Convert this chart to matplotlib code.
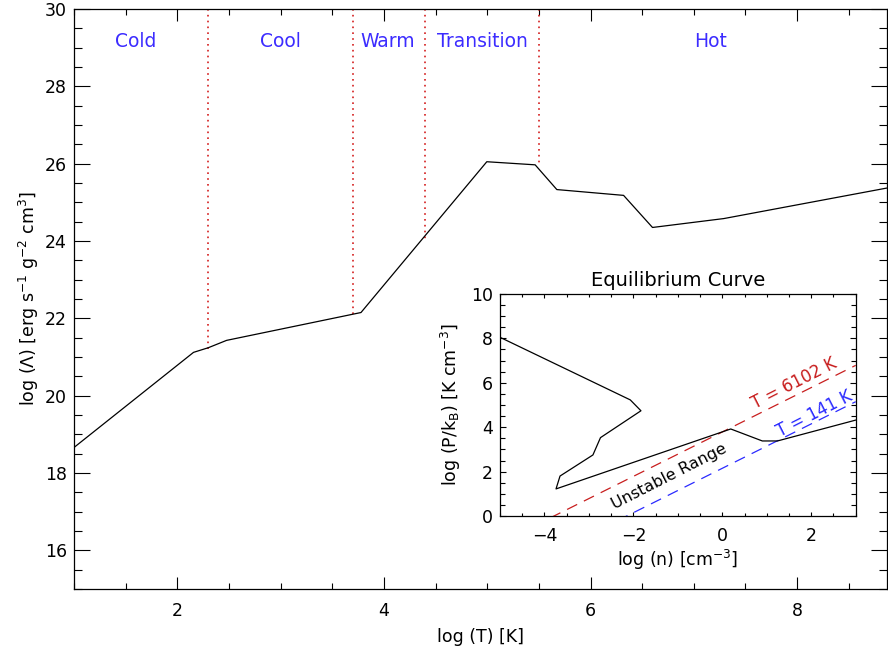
import matplotlib
matplotlib.use("Agg")
import matplotlib.pyplot as plt
from matplotlib.ticker import MultipleLocator
import numpy as np

plt.rcParams['font.family'] = ['DejaVu Sans']
plt.rcParams['mathtext.default'] = 'regular'

# Cooling function log(Lambda) versus log(T)
log_T = [1.0, 2.157, 2.30, 2.477, 3.778, 4.996, 5.464, 5.674, 6.32, 6.60, 7.29, 8.87]
log_lambda = [18.66, 21.12, 21.24, 21.43, 22.15, 26.05, 25.97, 25.33, 25.18, 24.35, 24.58, 25.37]

# Phase boundaries (dotted) and where each one meets the curve
phase_bounds = [2.3, 3.7, 4.4, 5.5]
phase_bound_bottoms = [21.2, 22.0, 24.0, 26.0]
phase_names = ["Cold", "Cool", "Warm", "Transition", "Hot"]
phase_label_x = [1.6, 3.0, 4.04, 4.95, 7.16]
phase_label_y = 29.15

# Equilibrium curve log(P/k_B) versus log(n)
eq_log_n = [-5.0, -2.07, -1.83, -2.74, -2.91, -3.65, -3.74, 0.19, 0.90, 1.24, 3.0]
eq_log_p = [8.05, 5.23, 4.74, 3.53, 2.75, 1.80, 1.22, 3.92, 3.38, 3.38, 4.32]

# Isotherms
iso_temps = [6102, 141]
iso_colors = ["#c81e1e", "#2a2aff"]
iso_label_pos = [(1.62, 5.95), (2.07, 4.62)]

fig = plt.figure(figsize=(8.88, 6.46), dpi=100)
ax = fig.add_axes([74 / 888, 1 - 589 / 646, 813 / 888, 580 / 646])

ax.plot(log_T, log_lambda, color="black", lw=0.9, zorder=3)
for xb, yb in zip(phase_bounds, phase_bound_bottoms):
    ax.plot([xb, xb], [30, yb], color="#d41e1e", lw=1.2, ls=(0, (1, 2.5)), zorder=2)
for name, xl in zip(phase_names, phase_label_x):
    ax.text(xl, phase_label_y, name, color="#3c2cff", fontsize=13.5,
            ha="center", va="center")

ax.set_xlim(1, 8.87)
ax.set_ylim(15, 30)
ax.xaxis.set_major_locator(MultipleLocator(2))
ax.xaxis.set_minor_locator(MultipleLocator(0.5))
ax.yaxis.set_major_locator(MultipleLocator(2))
ax.yaxis.set_minor_locator(MultipleLocator(0.5))
ax.tick_params(which="both", direction="in", top=True, right=True,
               labelsize=12.5, width=0.8, color="black")
ax.tick_params(axis="x", which="major", length=8.3, pad=9)
ax.tick_params(axis="x", which="minor", length=4.2)
ax.tick_params(axis="y", which="major", length=11.7, pad=5)
ax.tick_params(axis="y", which="minor", length=5.9)
ax.set_yticks([16, 18, 20, 22, 24, 26, 28, 30])
for s in ax.spines.values():
    s.set_linewidth(0.9)
ax.set_xlabel("log (T) [K]", fontsize=12.5, labelpad=6)
ax.set_ylabel(r"log ($\Lambda$) [erg s$^{-1}$ g$^{-2}$ cm$^{3}$]", fontsize=12.5,
              labelpad=3)

# Inset: equilibrium curve
ins = fig.add_axes([500 / 888, 1 - 516 / 646, 355.7 / 888, 222 / 646])
ins.set_facecolor("white")
ins.plot(eq_log_n, eq_log_p, color="black", lw=0.9, zorder=3)
n_line = np.array([-5.0, 3.0])
for T, c in zip(iso_temps, iso_colors):
    ins.plot(n_line, n_line + np.log10(T), color=c, lw=0.9,
             ls=(0, (9, 6)), zorder=2)
for (lx, ly), T, c in zip(iso_label_pos, iso_temps, iso_colors):
    ins.text(lx, ly, f"T = {T} K", color=c, fontsize=12, rotation=27,
             ha="center", va="center", rotation_mode="anchor")
ins.text(-1.2, 1.77, "Unstable Range", color="black", fontsize=11.5,
         rotation=27, ha="center", va="center", rotation_mode="anchor")

ins.set_xlim(-5, 3)
ins.set_ylim(0, 10)
ins.xaxis.set_major_locator(MultipleLocator(2))
ins.xaxis.set_minor_locator(MultipleLocator(0.5))
ins.yaxis.set_major_locator(MultipleLocator(2))
ins.yaxis.set_minor_locator(MultipleLocator(0.5))
ins.tick_params(which="both", direction="in", top=True, right=True,
                labelsize=12.5, width=0.8)
ins.tick_params(axis="x", which="major", length=3.0, pad=8)
ins.tick_params(axis="x", which="minor", length=2.4)
ins.tick_params(axis="y", which="major", length=4.5, pad=5)
ins.tick_params(axis="y", which="minor", length=3.6)
for s in ins.spines.values():
    s.set_linewidth(0.9)
ins.set_title("Equilibrium Curve", fontsize=14, pad=6)
ins.set_xlabel(r"log (n) [cm$^{-3}$]", fontsize=12.5, labelpad=2)
ins.set_ylabel(r"log (P/k$_{B}$) [K cm$^{-3}$]", fontsize=12.5, labelpad=6)

fig.savefig("out.png", dpi=100)
